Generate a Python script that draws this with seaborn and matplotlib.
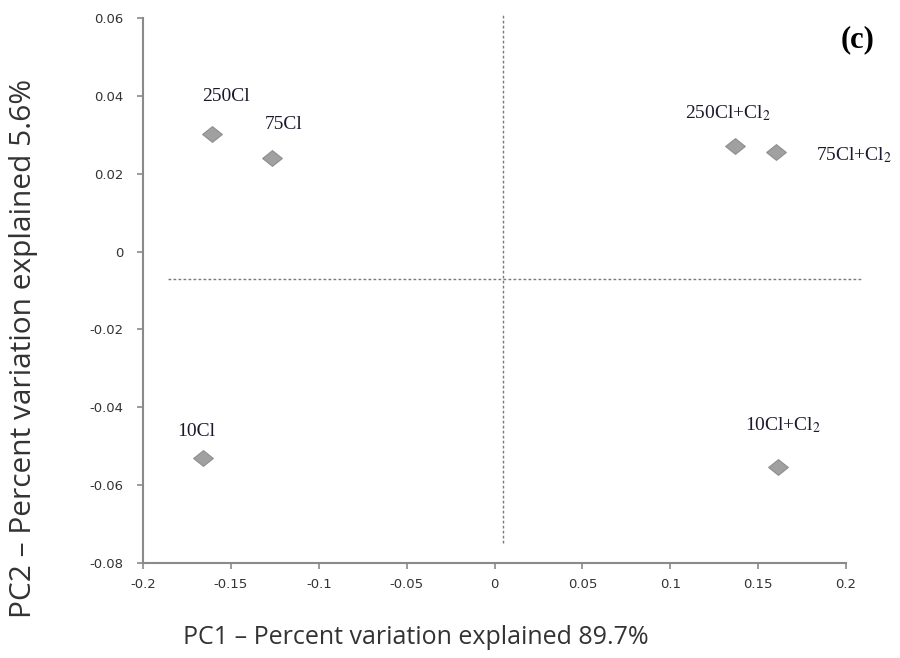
import matplotlib
matplotlib.use("Agg")
import matplotlib.pyplot as plt
import seaborn as sns
import pandas as pd
from matplotlib.path import Path

# PCA scores
samples = ["250Cl", "75Cl", "250Cl+Cl$_2$", "75Cl+Cl$_2$", "10Cl", "10Cl+Cl$_2$"]
pc1 = [-0.161, -0.1266, 0.1368, 0.160, -0.1659, 0.1613]
pc2 = [0.0302, 0.0240, 0.0271, 0.0256, -0.0530, -0.0553]

x_ticks = [-0.2, -0.15, -0.1, -0.05, 0, 0.05, 0.1, 0.15, 0.2]
x_tick_labels = ["-0.2", "-0.15", "-0.1", "-0.05", "0", "0.05", "0.1", "0.15", "0.2"]
y_ticks = [-0.08, -0.06, -0.04, -0.02, 0, 0.02, 0.04, 0.06]
y_tick_labels = ["-0.08", "-0.06", "-0.04", "-0.02", "0", "0.02", "0.04", "0.06"]

# quadrant divider lines (centre of the score cloud)
v_line_x = 0.0048
v_line_span = (-0.0749, 0.0608)
h_line_y = -0.0070
h_line_span = (-0.1858, 0.2097)

df = pd.DataFrame({"sample": samples, "pc1": pc1, "pc2": pc2})

sns.set_theme(style="white")
plt.rcParams["mathtext.fontset"] = "stix"

fig = plt.figure(figsize=(9, 6.58), dpi=100)
ax = fig.add_axes([0.159, 0.1444, 0.781, 0.8282])

diamond = Path([(-1, 0), (0, 0.8), (1, 0), (0, -0.8), (-1, 0)],
               [Path.MOVETO, Path.LINETO, Path.LINETO, Path.LINETO, Path.CLOSEPOLY])

sns.scatterplot(data=df, x="pc1", y="pc2", marker=diamond, s=200,
                color="#a0a0a0", edgecolor="#8e8e8e", linewidth=0.8, ax=ax, zorder=3)

ax.plot([v_line_x, v_line_x], v_line_span, ls=(0, (2.0, 1.6)), color="#7a7a7a",
        lw=1.0, clip_on=False)
ax.plot(h_line_span, [h_line_y, h_line_y], ls=(0, (2.0, 1.6)), color="#7a7a7a",
        lw=1.0, clip_on=False)

# label placement relative to each point (offset points, alignment)
label_pos = {
    "250Cl": ((10, 27), "center"),
    "75Cl": ((8, 24), "center"),
    "250Cl+Cl$_2$": ((-5, 24), "center"),
    "75Cl+Cl$_2$": ((29, -2), "left"),
    "10Cl": ((-5, 19), "center"),
    "10Cl+Cl$_2$": ((4, 30), "center"),
}
for name, x, y in zip(samples, pc1, pc2):
    off, ha = label_pos[name]
    ax.annotate(name, (x, y), xytext=off, textcoords="offset points",
                ha=ha, va="center", fontsize=14, family="Liberation Serif",
                color="#1a1a2e")

ax.set_xlim(-0.2, 0.2)
ax.set_ylim(-0.08, 0.06)
ax.set_xticks(x_ticks)
ax.set_xticklabels(x_tick_labels)
ax.set_yticks(y_ticks)
ax.set_yticklabels(y_tick_labels)

for side in ("top", "right"):
    ax.spines[side].set_visible(False)
for side in ("left", "bottom"):
    ax.spines[side].set_color("#8a8a8a")
    ax.spines[side].set_linewidth(1.5)

ax.tick_params(axis="both", which="major", direction="out", length=4, width=1.2,
               color="#8a8a8a", labelsize=9.5, labelcolor="#333333",
               bottom=True, left=True)
ax.tick_params(axis="x", pad=7)
ax.tick_params(axis="y", pad=10)
for lab in ax.get_xticklabels() + ax.get_yticklabels():
    lab.set_family("DejaVu Sans")

ax.set_xlabel("PC1 – Percent variation explained 89.7%", fontsize=18,
              family="Open Sans", color="#333333", va="center")
ax.set_ylabel("PC2 – Percent variation explained 5.6%", fontsize=21.5,
              family="Open Sans", color="#333333", va="center")
ax.xaxis.set_label_coords(0.388, -0.1376)
ax.yaxis.set_label_coords(-0.1707, 0.394)

fig.text(0.953, 0.939, "(c)", fontsize=22, fontweight="bold",
         family="Liberation Serif", ha="center", va="center", color="black")

fig.savefig("out.png", dpi=100, facecolor="white")
